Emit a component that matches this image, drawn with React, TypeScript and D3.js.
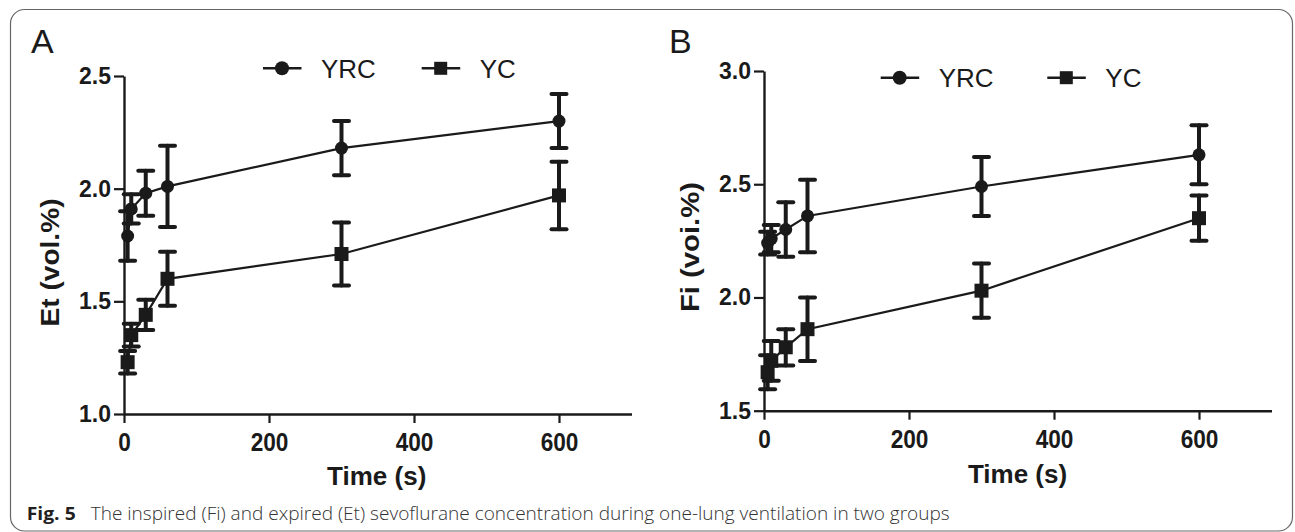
import React, { useEffect, useRef } from "react";
import * as d3 from "d3";

// sampling times (s)
const times = [5, 10, 30, 60, 300, 600];

// Panel A: expired (Et) concentration, vol.%
const etYrcMean = [1.79, 1.91, 1.98, 2.01, 2.18, 2.3];
const etYrcSd = [0.11, 0.065, 0.1, 0.18, 0.12, 0.12];
const etYcMean = [1.23, 1.35, 1.44, 1.6, 1.71, 1.97];
const etYcSd = [0.05, 0.05, 0.067, 0.12, 0.14, 0.15];

// Panel B: inspired (Fi) concentration, vol.%
const fiYrcMean = [2.24, 2.26, 2.3, 2.36, 2.49, 2.63];
const fiYrcSd = [0.05, 0.06, 0.12, 0.16, 0.13, 0.13];
const fiYcMean = [1.67, 1.72, 1.78, 1.86, 2.03, 2.35];
const fiYcSd = [0.075, 0.088, 0.08, 0.14, 0.12, 0.1];

const xTicks = [0, 200, 400, 600];
const etTicks = [1.0, 1.5, 2.0, 2.5];
const fiTicks = [1.5, 2.0, 2.5, 3.0];

const seriesNames = ["YRC", "YC"];
const caption =
  "The inspired (Fi) and expired (Et) sevoflurane concentration during one-lung ventilation in two groups";

const INK = "#1a1a1a";
const FONT = "'Liberation Sans', Arial, sans-serif";

interface Panel {
  letter: string;
  yLabel: string;
  yDomain: [number, number];
  yTicks: number[];
  yrc: number[];
  yrcSd: number[];
  yc: number[];
  ycSd: number[];
  // layout
  left: number;
  right: number;
  top: number;
  bottom: number;
  letterX: number;
  letterY: number;
  yLabelX: number;
  yLabelY: number;
  yLabelLen: number;
  timeX: number;
  timeY: number;
  legendY: number;
  legendX: number[]; // line start for each entry
}

const panels: Panel[] = [
  {
    letter: "A",
    yLabel: "Et (vol.%)",
    yDomain: [1, 2.5],
    yTicks: etTicks,
    yrc: etYrcMean,
    yrcSd: etYrcSd,
    yc: etYcMean,
    ycSd: etYcSd,
    left: 124,
    right: 631.5,
    top: 76,
    bottom: 414,
    letterX: 31,
    letterY: 53,
    yLabelX: 59,
    yLabelY: 262.5,
    yLabelLen: 128,
    timeX: 376.7,
    timeY: 485,
    legendY: 68.3,
    legendX: [263, 421.7],
  },
  {
    letter: "B",
    yLabel: "Fi (voi.%)",
    yDomain: [1.5, 3.0],
    yTicks: fiTicks,
    yrc: fiYrcMean,
    yrcSd: fiYrcSd,
    yc: fiYcMean,
    ycSd: fiYcSd,
    left: 764,
    right: 1271.5,
    top: 71,
    bottom: 410.7,
    letterX: 669,
    letterY: 53,
    yLabelX: 699,
    yLabelY: 247,
    yLabelLen: 130,
    timeX: 1017.5,
    timeY: 483,
    legendY: 77.7,
    legendX: [880.7, 1047.3],
  },
];

function drawMarker(
  g: d3.Selection<SVGGElement, unknown, null, undefined>,
  kind: number,
  cx: number,
  cy: number,
  size: number
) {
  if (kind === 0) {
    g.append("circle").attr("cx", cx).attr("cy", cy).attr("r", size / 2).attr("fill", INK);
  } else {
    g.append("rect")
      .attr("x", cx - size / 2)
      .attr("y", cy - size / 2)
      .attr("width", size)
      .attr("height", size)
      .attr("fill", INK);
  }
}

export default function App() {
  const svgRef = useRef<SVGSVGElement>(null);

  useEffect(() => {
    if (!svgRef.current) return;
    const svg = d3.select(svgRef.current);
    svg.selectAll("*").remove();

    // frame
    svg
      .append("rect")
      .attr("x", 10.5)
      .attr("y", 9.5)
      .attr("width", 1282)
      .attr("height", 521.5)
      .attr("rx", 14)
      .attr("fill", "none")
      .attr("stroke", "#666")
      .attr("stroke-width", 1.2);

    panels.forEach((p) => {
      const g = svg.append("g");
      const x = d3.scaleLinear().domain([0, 700]).range([p.left, p.right]);
      const y = d3.scaleLinear().domain(p.yDomain).range([p.bottom, p.top]);

      // panel letter
      g.append("text")
        .attr("x", p.letterX)
        .attr("y", p.letterY)
        .attr("font-family", FONT)
        .attr("font-size", 34)
        .attr("fill", INK)
        .text(p.letter);

      // axes
      const xAxis = g
        .append("g")
        .attr("transform", `translate(0,${p.bottom})`)
        .call(d3.axisBottom(x).tickValues(xTicks).tickSize(9).tickSizeOuter(0).tickPadding(10));
      const yAxis = g
        .append("g")
        .attr("transform", `translate(${p.left},0)`)
        .call(
          d3
            .axisLeft(y)
            .tickValues(p.yTicks)
            .tickFormat(d3.format(".1f"))
            .tickSize(10)
            .tickSizeOuter(0)
            .tickPadding(3)
        );
      [xAxis, yAxis].forEach((a) => {
        a.attr("font-family", FONT).attr("font-size", 23).attr("font-weight", "bold");
        a.select(".domain").attr("stroke", INK).attr("stroke-width", 2.4);
        a.selectAll(".tick line").attr("stroke", INK).attr("stroke-width", 2.2);
        a.selectAll(".tick text").attr("fill", INK);
      });
      // x tick labels are taller and a little condensed in the figure
      xAxis.attr("font-size", 26);
      xAxis.selectAll<SVGTextElement, unknown>(".tick text").each(function () {
        const w = this.getComputedTextLength();
        d3.select(this).attr("textLength", w * 0.87).attr("lengthAdjust", "spacingAndGlyphs");
      });

      // axis titles
      g.append("text")
        .attr("x", p.timeX)
        .attr("y", p.timeY)
        .attr("text-anchor", "middle")
        .attr("font-family", FONT)
        .attr("font-weight", "bold")
        .attr("font-size", 26)
        .attr("fill", INK)
        .text("Time (s)");

      g.append("text")
        .attr("transform", `translate(${p.yLabelX},${p.yLabelY}) rotate(-90)`)
        .attr("text-anchor", "middle")
        .attr("font-family", FONT)
        .attr("font-weight", "bold")
        .attr("font-size", 26)
        .attr("textLength", p.yLabelLen)
        .attr("lengthAdjust", "spacingAndGlyphs")
        .attr("fill", INK)
        .text(p.yLabel);

      // series
      const series = [
        { mean: p.yrc, sd: p.yrcSd },
        { mean: p.yc, sd: p.ycSd },
      ];
      series.forEach((s, si) => {
        const pts = times.map((t, i) => ({ t, m: s.mean[i], sd: s.sd[i] }));
        const line = d3
          .line<{ t: number; m: number }>()
          .x((d) => x(d.t))
          .y((d) => y(d.m));
        g.append("path")
          .attr("d", line(pts))
          .attr("fill", "none")
          .attr("stroke", INK)
          .attr("stroke-width", 2.2);

        const eb = g.append("g").attr("stroke", INK).attr("stroke-width", 4).attr("stroke-linecap", "round");
        pts.forEach((d) => {
          const cx = x(d.t);
          const y0 = y(d.m - d.sd);
          const y1 = y(d.m + d.sd);
          eb.append("line").attr("x1", cx).attr("x2", cx).attr("y1", y0).attr("y2", y1);
          eb.append("line").attr("x1", cx - 7.5).attr("x2", cx + 7.5).attr("y1", y0).attr("y2", y0);
          eb.append("line").attr("x1", cx - 7.5).attr("x2", cx + 7.5).attr("y1", y1).attr("y2", y1);
        });

        const mk = g.append("g");
        pts.forEach((d) => drawMarker(mk, si, x(d.t), y(d.m), si === 0 ? 13 : 14));
      });

      // legend
      seriesNames.forEach((name, si) => {
        const lx = p.legendX[si];
        const lg = g.append("g");
        lg.append("line")
          .attr("x1", lx)
          .attr("x2", lx + 38.5)
          .attr("y1", p.legendY)
          .attr("y2", p.legendY)
          .attr("stroke", INK)
          .attr("stroke-width", 2.6);
        drawMarker(lg, si, lx + 19, p.legendY, si === 0 ? 14 : 13);
        lg.append("text")
          .attr("x", lx + 58)
          .attr("y", p.legendY + 9.4)
          .attr("font-family", FONT)
          .attr("font-size", 26)
          .attr("fill", INK)
          .text(name);
      });
    });

    // caption
    svg
      .append("text")
      .attr("x", 26.7)
      .attr("y", 520)
      .attr("font-family", "'Open Sans', 'Noto Sans', sans-serif")
      .attr("font-weight", "bold")
      .attr("font-size", 18)
      .attr("fill", "#231f20")
      .attr("textLength", 49)
      .attr("lengthAdjust", "spacingAndGlyphs")
      .text("Fig. 5");
    svg
      .append("text")
      .attr("x", 90.7)
      .attr("y", 520)
      .attr("font-family", "'Open Sans', 'Noto Sans', sans-serif")
      .attr("font-weight", 300)
      .attr("font-size", 18)
      .attr("fill", "#333")
      .attr("textLength", 859)
      .attr("lengthAdjust", "spacingAndGlyphs")
      .text(caption);
  }, []);

  return (
    <svg
      ref={svgRef}
      width={1295}
      height={532}
      style={{ position: "absolute", left: 0, top: 0, background: "#fff" }}
    />
  );
}
